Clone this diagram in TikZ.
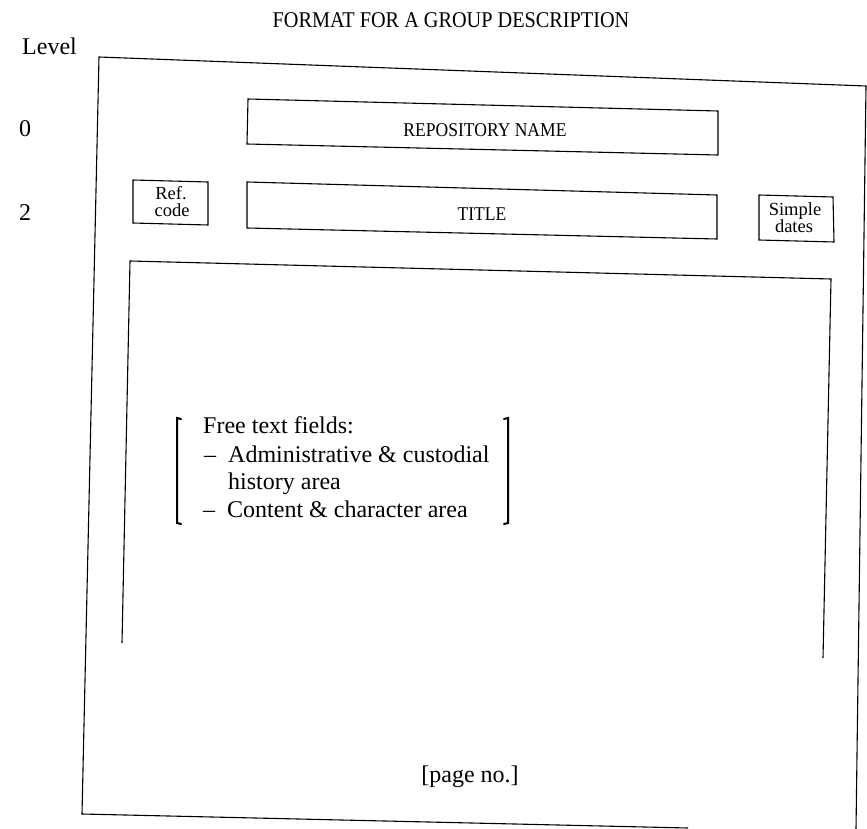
\documentclass[tikz,border=0pt]{standalone}
\usepackage{fontspec}
\setmainfont{Liberation Serif}
\newfontfamily\condserif[FakeStretch=0.9]{Liberation Serif}
\begin{document}
\begin{tikzpicture}[x=1pt,y=-1pt,
  frame/.style={draw=black, line width=1.1pt, line join=miter},
  brk/.style={draw=black, line width=2pt, line cap=round},
  lbl/.style={inner sep=0pt, anchor=base},
  lblL/.style={inner sep=0pt, anchor=base west},
  fTitle/.style={font=\condserif\fontsize{22.5}{26}\selectfont},
  fBig/.style={font=\fontsize{24}{28}\selectfont},
  fBox/.style={font=\condserif\fontsize{19.5}{22}\selectfont},
  fSmall/.style={font=\fontsize{18.5}{20}\selectfont}]
\useasboundingbox (0,0) rectangle (867,829);

% outer frame (bottom-right corner cut off by the scan)
\draw[frame] (688,828) -- (82,814) -- (99,57) -- (866,86) -- (856,829);
% inner open box
\draw[frame] (122,643) -- (130,261) -- (831,279) -- (823,658);
% repository name box
\draw[frame] (248,99) -- (718,111) -- (718,155) -- (247,144) -- cycle;
% title box
\draw[frame] (247,182) -- (717,195) -- (717,239) -- (247,228) -- cycle;
% ref code box
\draw[frame] (133,180) -- (208,182) -- (208,225) -- (133,223) -- cycle;
% simple dates box
\draw[frame] (759,195) -- (833,197) -- (834,242) -- (759,240) -- cycle;

% texts
\node[lbl, fTitle] (title) at (451,28) {FORMAT FOR A GROUP DESCRIPTION};
\node[lblL, fBig] (level) at (22,55) {Level};
\node[lbl, fBig] (lv0) at (25,137) {0};
\node[lbl, fBig] (lv2) at (25,221) {2};
\node[lbl, fBox] (repo) at (485,137) {REPOSITORY NAME};
\node[lbl, fBox] (ttl) at (482,220) {TITLE};
\node[lbl, fSmall] (refa) at (171,200) {Ref.};
\node[lbl, fSmall] (refb) at (172,217) {code};
\node[lbl, fSmall] (sima) at (795,215) {Simple};
\node[lbl, fSmall] (simb) at (794,233) {dates};

% free text fields
\draw[brk] (181,419) -- (177,418) -- (177,523) -- (181,524);
\draw[brk] (504,419) -- (508,418) -- (508,523) -- (504,524);
\node[lblL, fBig] (ft0) at (203,433) {Free text fields:};
\node[lblL, fBig] (ftd1) at (204,462) {\textendash};
\node[lblL, fBig] (ft1) at (228,462) {Administrative \& custodial};
\node[lblL, fBig] (ft2) at (228,489) {history area};
\node[lblL, fBig] (ftd3) at (203,517) {\textendash};
\node[lblL, fBig] (ft3) at (227,517) {Content \& character area};

\node[lbl, fBig] (page) at (470,782) {[page no.]};
\end{tikzpicture}
\end{document}
